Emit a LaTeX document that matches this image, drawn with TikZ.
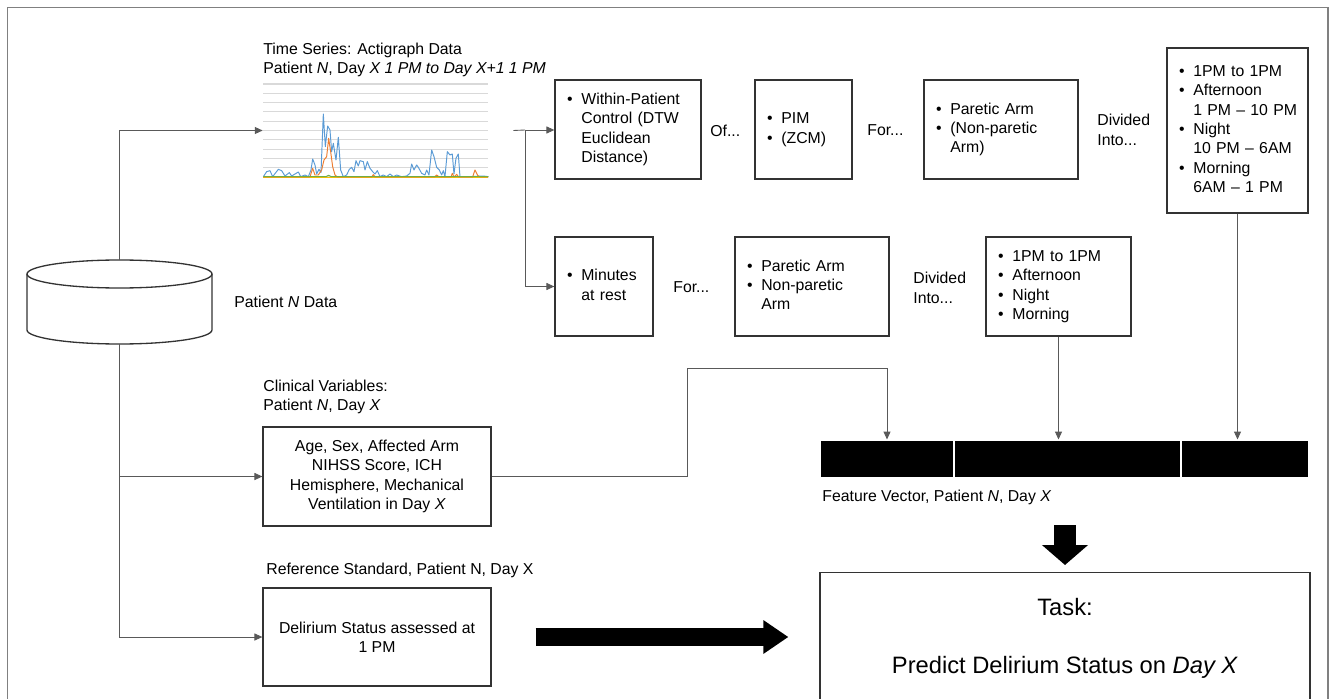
\documentclass[tikz,border=0pt]{standalone}
\usepackage{fontspec}
\setmainfont{Liberation Sans}
\usetikzlibrary{arrows.meta}
\usetikzlibrary{positioning}

\definecolor{xlblue}{HTML}{5B9BD5}
\definecolor{xlorange}{HTML}{ED7D31}
\definecolor{xlgreen}{HTML}{70AD47}
\definecolor{xlgold}{HTML}{FFC000}
\definecolor{gridgray}{HTML}{D9D9D9}

\newcommand{\fs}{\fontsize{9}{11}\selectfont}
\newcommand{\pointlist}[1]{\begin{tabular}{@{}l@{\hspace{5pt}}l@{}}#1\end{tabular}}

\tikzset{
  box/.style={draw=black!80, line width=0.75pt, fill=white, inner xsep=0.24cm, inner ysep=0pt, font=\fs},
  listbox/.style={box, align=left},
  conn/.style={draw=black!65, line width=0.5pt},
  arr/.style={conn, -{Triangle[length=4.5pt,width=4pt]}},
  bigarrow/.style={line width=0.36cm, -{Triangle[length=0.5cm,width=0.64cm]}},
  word/.style={font=\fs, inner sep=0pt, align=left, anchor=west},
  fvcell/.style={fill=black, draw=white, line width=0.6pt, minimum height=0.76cm, inner sep=0pt},
}

\begin{document}
\begin{tikzpicture}[x=0.02cm, y=-0.02cm]
\useasboundingbox (0,0) rectangle (1329,699);
% frame, open at the bottom
\draw[black!50, line width=1pt] (7.5,720) -- (7.5,7.5) -- (1328,7.5) -- (1328,720);

% data store
\node[minimum width=3.7cm, minimum height=1.68cm, inner sep=0pt] (db) at (119.5,302) {};
\draw[box] (27,274) -- (27,330) arc[start angle=180, end angle=360, x radius=1.85cm, y radius=0.28cm] -- (212,274);
\draw[box] (119.5,274) ellipse [x radius=1.85cm, y radius=0.28cm];
\node[word] (dblabel) at (234,302) {Patient \textit{N} Data};

% actigraph chart
\node[minimum width=4.5cm, minimum height=1.86cm, inner sep=0pt] (ts) at (375.5,130.5) {};
\foreach \g in {0,...,10}
  \draw[gridgray, line width=0.6pt] (263,{84+9.3*\g}) -- (488,{84+9.3*\g});
\begin{scope}[shift={(250,80)}, xscale=0.3333, yscale=0.3333, line width=0.55pt, line join=round]
\draw[xlgold] (40,291) -- (715,291);
\draw[xlblue] (40,290) -- (50,275) -- (60,272) -- (68,290) -- (85,268) -- (95,272) -- (105,288) -- (118,278) -- (125,288) -- (145,276) -- (152,290) -- (165,285) -- (175,290) -- (183,270) -- (188,237) -- (195,255) -- (200,282) -- (207,268) -- (213,278) -- (220,102) -- (226,200) -- (233,138) -- (240,150) -- (245,215) -- (250,190) -- (258,240) -- (265,172) -- (272,270) -- (280,290) -- (290,285) -- (298,268) -- (305,262) -- (312,275) -- (318,242) -- (325,258) -- (330,242) -- (340,245) -- (345,270) -- (352,245) -- (360,265) -- (368,275) -- (375,282) -- (382,272) -- (390,290) -- (400,285) -- (410,290) -- (420,282) -- (430,290) -- (440,285) -- (455,290) -- (470,288) -- (480,280) -- (485,252) -- (492,270) -- (500,255) -- (505,262) -- (515,280) -- (525,285) -- (530,270) -- (537,285) -- (545,210) -- (552,230) -- (560,262) -- (568,270) -- (575,285) -- (580,272) -- (585,290) -- (592,215) -- (600,225) -- (607,222) -- (612,282) -- (618,235) -- (625,222) -- (630,290) -- (660,290) -- (700,288) -- (715,290);
\draw[xlorange] (40,291) -- (180,291) -- (188,265) -- (195,285) -- (205,285) -- (215,270) -- (222,240) -- (230,230) -- (236,175) -- (242,215) -- (248,260) -- (255,285) -- (262,291) -- (365,291) -- (370,284) -- (376,291) -- (553,291) -- (560,285) -- (568,291) -- (603,291) -- (607,280) -- (612,291) -- (620,283) -- (626,291) -- (668,291) -- (675,270) -- (683,286) -- (690,291) -- (715,291);
\draw[xlgreen] (40,290) -- (228,290) -- (236,286) -- (244,290) -- (715,290);
\end{scope}
\node[word] (tstitle) at (263,60) {Time Series: Actigraph Data\\Patient \textit{N}, Day \textit{X 1 PM to Day X+1 1 PM}};

% upper row
\node[listbox, text width=2.44cm, minimum height=1.98cm] (wpc) at (628,129.5) {\pointlist{\textbullet & Within-Patient\\ & Control (DTW\\ & Euclidean\\ & Distance)}};
\node[word] (of) at (710,131) {Of...};
\node[listbox, text width=1.46cm, minimum height=1.98cm] (pim) at (803.5,129.5) {\pointlist{\textbullet & PIM\\ \textbullet & (ZCM)}};
\node[word] (for1) at (867,130) {For...};
\node[listbox, text width=2.6cm, minimum height=1.98cm] (par1) at (1001,129.5) {\pointlist{\textbullet & Paretic Arm\\ \textbullet & (Non-paretic\\ & Arm)}};
\node[word] (div1) at (1097,130) {Divided\\Into...};
\node[listbox, text width=2.34cm, minimum height=3.3cm] (tw1) at (1237.5,130.5) {\pointlist{\textbullet & 1PM to 1PM\\ \textbullet & Afternoon\\ & 1 PM -- 10 PM\\ \textbullet & Night\\ & 10 PM -- 6AM\\ \textbullet & Morning\\ & 6AM -- 1 PM}};

% lower row
\node[listbox, text width=1.48cm, minimum height=1.98cm] (mins) at (604,286.5) {\pointlist{\textbullet & Minutes\\ & at rest}};
\node[word] (for2) at (673,287) {For...};
\node[listbox, text width=2.6cm, minimum height=1.98cm] (par2) at (812,286.5) {\pointlist{\textbullet & Paretic Arm\\ \textbullet & Non-paretic\\ & Arm}};
\node[word] (div2) at (913,288) {Divided\\Into...};
\node[listbox, text width=2.42cm, minimum height=1.98cm] (tw2) at (1058.5,286.5) {\pointlist{\textbullet & 1PM to 1PM\\ \textbullet & Afternoon\\ \textbullet & Night\\ \textbullet & Morning}};

% clinical and reference
\node[word] (clinlabel) at (263,397) {Clinical Variables:\\Patient \textit{N}, Day \textit{X}};
\node[box, align=center, minimum width=4.56cm, minimum height=1.98cm] (clin) at (377,476.5) {Age, Sex, Affected Arm\\NIHSS Score, ICH\\Hemisphere, Mechanical\\Ventilation in Day \textit{X}};
\node[word] (reflabel) at (266,570) {Reference Standard, Patient N, Day X};
\node[box, align=center, minimum width=4.56cm, minimum height=1.96cm] (delir) at (377,637) {Delirium Status assessed at\\1 PM};

% feature vector
\node[fvcell, minimum width=2.66cm, anchor=west] (fv1) at (820,459) {};
\node[fvcell, minimum width=4.52cm, right=0pt of fv1] (fv2) {};
\node[fvcell, minimum width=2.54cm, right=0pt of fv2] (fv3) {};
\node[word] (fvlabel) at (822,497) {Feature Vector, Patient \textit{N}, Day \textit{X}};

% task
\node[box, font=\fontsize{13.5}{16}\selectfont, align=center, minimum width=9.8cm, minimum height=2.64cm, anchor=north] (task) at (1065,572) {Task:\\[17pt]Predict Delirium Status on \textit{Day X}};

% connectors
\coordinate (split) at (525,130);
\coordinate (arrend) at (delir.east -| task.west);
\draw[arr] (db.north) |- (ts.west);
\draw[conn] ([xshift=0.5cm]ts.east) -- (split);
\draw[arr] (split) -- (split -| wpc.west);
\draw[arr] (split) |- (mins.west);
\draw[arr] (db.south) |- (clin.west);
\draw[arr] (db.south) |- (delir.west);
\draw[arr] (clin.east) -| (687,368) -| (fv1.north);
\draw[arr] (tw2.south) -- (tw2.south |- fv2.north);
\draw[arr] (tw1.south) -- (tw1.south |- fv3.north);
\draw[bigarrow, line width=0.44cm, -{Triangle[length=0.4cm,width=0.9cm]}] ([yshift=0.94cm]task.north) -- ([yshift=0.14cm]task.north);
\draw[bigarrow] ([xshift=0.88cm]delir.east) -- ([xshift=-0.62cm]arrend);
\end{tikzpicture}
\end{document}
